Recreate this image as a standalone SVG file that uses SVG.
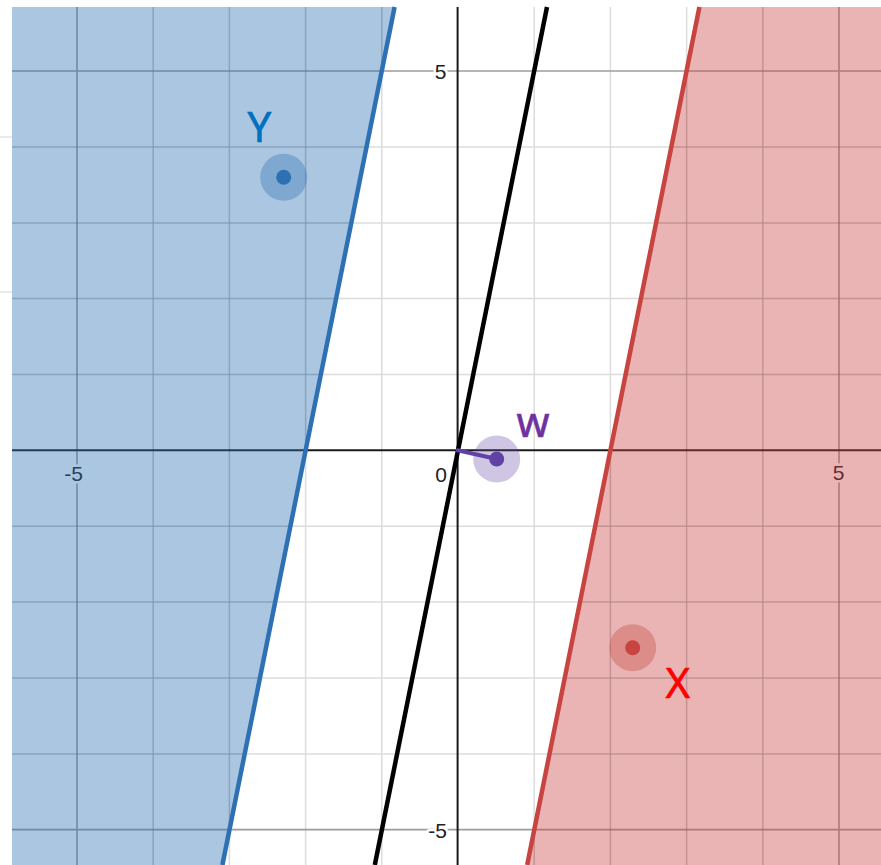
<svg xmlns="http://www.w3.org/2000/svg" width="881" height="865" viewBox="0 0 881 865">
  <defs>
    <style>
      .axis { stroke: #1a1a1a; stroke-width: 2; fill: none; }
      .tick { font-family: "Liberation Sans", Arial, sans-serif; font-size: 21px; fill: #222; stroke: #fff; stroke-width: 5; stroke-linejoin: round; paint-order: stroke; }
      .name { font-family: "Noto Sans", "Liberation Sans", sans-serif; font-size: 42px; stroke-width: 0.6; }
      .line { fill: none; stroke-width: 4.5; stroke-linecap: butt; }
    </style>
    <g id="minor-lines">
      <line x1="153.2" y1="7" x2="153.2" y2="865"/>
      <line x1="229.4" y1="7" x2="229.4" y2="865"/>
      <line x1="305.6" y1="7" x2="305.6" y2="865"/>
      <line x1="381.8" y1="7" x2="381.8" y2="865"/>
      <line x1="534.2" y1="7" x2="534.2" y2="865"/>
      <line x1="610.4" y1="7" x2="610.4" y2="865"/>
      <line x1="686.6" y1="7" x2="686.6" y2="865"/>
      <line x1="762.8" y1="7" x2="762.8" y2="865"/>
      <line x1="12" y1="147" x2="881" y2="147"/>
      <line x1="12" y1="223" x2="881" y2="223"/>
      <line x1="12" y1="298.5" x2="881" y2="298.5"/>
      <line x1="12" y1="374.4" x2="881" y2="374.4"/>
      <line x1="12" y1="526.2" x2="881" y2="526.2"/>
      <line x1="12" y1="602" x2="881" y2="602"/>
      <line x1="12" y1="678" x2="881" y2="678"/>
      <line x1="12" y1="754" x2="881" y2="754"/>
    </g>
    <clipPath id="shaded">
      <polygon points="12,7 394.6,7 222.4,865 12,865"/>
      <polygon points="699.4,7 881,7 881,865 527.2,865"/>
    </clipPath>
  </defs>

  <rect x="0" y="0" width="881" height="865" fill="#ffffff"/>
  <g id="margin">
    <line x1="0" y1="137" x2="12" y2="137" stroke="#e3e3e3" stroke-width="1.5"/>
    <line x1="0" y1="292" x2="12" y2="292" stroke="#e3e3e3" stroke-width="1.5"/>
  </g>

  <g id="grid">
    <use href="#minor-lines" stroke="#dcdcdc" stroke-width="1.5"/>
    <g stroke="#9c9c9c" stroke-width="1.6">
      <line x1="77" y1="7" x2="77" y2="865"/>
      <line x1="839" y1="7" x2="839" y2="865"/>
      <line x1="12" y1="71" x2="881" y2="71"/>
      <line x1="12" y1="829.6" x2="881" y2="829.6"/>
    </g>
  </g>

  <g id="axes">
    <line class="axis" x1="457.6" y1="7" x2="457.6" y2="865"/>
    <line class="axis" x1="12" y1="450.3" x2="881" y2="450.3"/>
  </g>

  <g id="tick-labels">
    <text class="tick" x="446.5" y="78.5" text-anchor="end">5</text>
    <text class="tick" x="447" y="481.5" text-anchor="end">0</text>
    <text class="tick" x="447" y="838" text-anchor="end">-5</text>
    <text class="tick" x="73.5" y="481" text-anchor="middle">-5</text>
    <text class="tick" x="838.5" y="480" text-anchor="middle">5</text>
  </g>

  <g id="regions">
    <polygon id="region-Y" points="12,7 394.6,7 222.4,865 12,865" fill="#2d70b3" fill-opacity="0.4"/>
    <polygon id="region-X" points="699.4,7 881,7 881,865 527.2,865" fill="#c74440" fill-opacity="0.4"/>
    <use href="#minor-lines" clip-path="url(#shaded)" stroke="#000000" stroke-opacity="0.07" stroke-width="1.5"/>
  </g>

  <g id="connectors">
    <line id="boundary-Y" class="line" x1="394.6" y1="7" x2="222.4" y2="865" stroke="#2d70b3"/>
    <line id="boundary-X" class="line" x1="699.4" y1="7" x2="527.2" y2="865" stroke="#c74440"/>
    <line id="separator" class="line" x1="547" y1="7" x2="374.8" y2="865" stroke="#000000"/>
    <line id="vector-w" x1="457.6" y1="450.3" x2="496.7" y2="459" stroke="#6042a6" stroke-width="4" stroke-linecap="round"/>
  </g>

  <g id="point-Y">
    <circle cx="283.7" cy="177.3" r="23.5" fill="#2d70b3" fill-opacity="0.35"/>
    <circle cx="283.7" cy="177.3" r="7.5" fill="#2d70b3"/>
    <text class="name" x="247.5" y="141.7" fill="#0070c0" stroke="#0070c0">Y</text>
  </g>

  <g id="point-X">
    <circle cx="632.7" cy="647.7" r="23.5" fill="#c74440" fill-opacity="0.35"/>
    <circle cx="632.7" cy="647.7" r="7.5" fill="#c74440"/>
    <text class="name" x="665.5" y="698.3" fill="#ff0000" stroke="#ff0000">X</text>
  </g>

  <g id="point-w">
    <circle cx="496.7" cy="459" r="23.5" fill="#6042a6" fill-opacity="0.3"/>
    <circle cx="496.7" cy="459" r="7.5" fill="#6042a6"/>
    <text class="name" x="516.5" y="437.3" fill="#7030a0" stroke="#7030a0" stroke-width="1.4">w</text>
  </g>
</svg>
